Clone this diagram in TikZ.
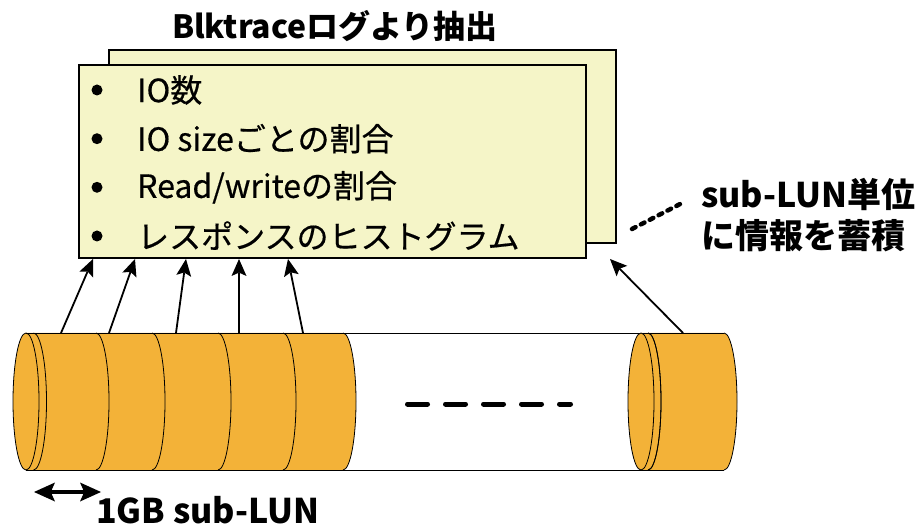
\documentclass[tikz,border=0pt]{standalone}
\usepackage{fontspec}
\setmainfont{Noto Sans CJK JP}
\newfontfamily\listfont{Noto Sans CJK JP}[FakeBold=0.5]
\usetikzlibrary{calc}
\definecolor{memo}{RGB}{245,245,200}
\definecolor{disk}{RGB}{243,178,56}
% line from #1 to #2 ending in a filled head: #3 head length, #4 half width, #5 line width
\newcommand\flowarrow[5]{%
  \coordinate (hb) at ($(#2)!#3!(#1)$);
  \coordinate (hi) at ($(#2)!0.8*#3!(#1)$);
  \draw[line width=#5] (#1) -- (hi);
  \fill (#2) -- ($(hb)!#4!90:(#2)$) -- (hi) -- ($(hb)!#4!-90:(#2)$) -- cycle;
}
\begin{document}
\begin{tikzpicture}[x=1pt,y=-1pt,
  memobox/.style={draw=black,line width=1.5pt,fill=memo,minimum width=507pt,minimum height=193pt,inner sep=0pt},
  itemtext/.style={anchor=west,inner sep=0pt,font=\listfont\fontsize{32pt}{36pt}\selectfont},
  boldtext/.style={inner sep=0pt,font=\fontsize{#1}{#1}\selectfont\bfseries},
  bulletdot/.style={fill=black,draw=none},
  edge/.style={line width=0.8pt,draw=black},
  seam/.style={edge},
  cylr/.style={x radius=13pt,y radius=68.5pt}]
\useasboundingbox (0,0) rectangle (921,529);

% stacked memo sheets
\node[memobox] (back) at (362.5,146.5) {};
\node[memobox] (memo) at (332.5,161.5) {};

% title
\node[boldtext=32pt] (title) at (335,26) {Blktraceログより抽出};

% bullet list
\foreach \yy in {90,138.7,187.3,236}{
  \fill[bulletdot] (97,\yy) circle[radius=5.5pt];
}
\node[itemtext] (item1) at (137,90) {IO数};
\node[itemtext] (item2) at (137,138.7) {IO sizeごとの割合};
\node[itemtext] (item3) at (137,187.3) {Read/writeの割合};
\node[itemtext] (item4) at (137,236) {レスポンスのヒストグラム};

% side note
\node[boldtext=34pt,anchor=west] (note1) at (701,194) {sub-LUN単位};
\node[boldtext=34pt,anchor=west] (note2) at (701,236) {に情報を蓄積};
\coordinate (dotA) at (632,229);
\coordinate (dotB) at (684,202);
\draw[line width=4.5pt,line cap=round,dash pattern=on 4pt off 6pt] (dotA) -- (dotB);

% left block of sub-LUN discs
\fill[disk] (26,333) -- (343,333) arc[start angle=90,end angle=-90,cylr]
  -- (26,470) arc[start angle=-90,end angle=-270,cylr] -- cycle;
% right block
\fill[disk] (641,333) -- (724,333) arc[start angle=90,end angle=-90,cylr]
  -- (641,470) arc[start angle=-90,end angle=-270,cylr] -- cycle;

% outline of the volume
\draw[edge] (26,333) -- (724,333);
\draw[edge] (26,470) -- (724,470);
\draw[edge] (26,401.5) ellipse[cylr];
\foreach \c in {33.5,96,152,218,283,343,648,724}{
  \draw[seam] (\c,333) arc[start angle=90,end angle=-90,cylr];
}
\draw[edge,fill=disk] (641,401.5) ellipse[cylr];
\draw[seam] (648,333) arc[start angle=90,end angle=-90,cylr];

% ellipsis dashes
\coordinate (gapA) at (407.5,404);
\coordinate (gapB) at (570.5,404);
\draw[line width=5pt,line cap=round,dash pattern=on 20pt off 18pt] (gapA) -- (gapB);

% extraction arrows
\foreach \sx/\tx [count=\i] in {61/93,109/135,176/186,239/239,303/288,683/610}{
  \coordinate (src\i) at (\sx,333);
  \coordinate (dst\i) at (\tx,259);
  \flowarrow{src\i}{dst\i}{17pt}{7.5pt}{1.8pt}
}

% size marker
\coordinate (spanA) at (34,492);
\coordinate (spanB) at (101,492);
\coordinate (spanM) at (67.5,492);
\flowarrow{spanM}{spanA}{21pt}{9.5pt}{3.5pt}
\flowarrow{spanM}{spanB}{21pt}{9.5pt}{3.5pt}
\node[boldtext=34pt,anchor=west] (size) at (96,510) {1GB sub-LUN};
\end{tikzpicture}
\end{document}
